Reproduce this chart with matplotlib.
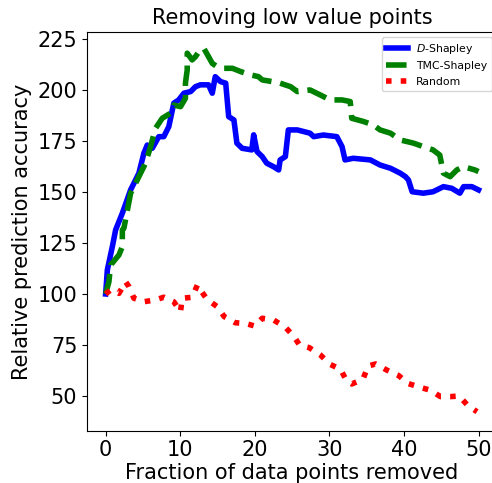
import matplotlib
matplotlib.use("Agg")
import matplotlib.pyplot as plt

# D-Shapley
d_x = [0, 0.23, 0.9, 1.34, 2.24, 3.35, 4.46, 5.13, 5.58, 6.25, 7.13, 7.8, 8.47, 9.14, 9.8,
       10.5, 11.4, 12.05, 12.7, 13.8, 14.3, 14.7, 15.4, 16.1, 16.5, 17.2, 17.6, 18.3, 19.6,
       19.85, 20.3, 21.0, 21.6, 22.5, 23.2, 23.4, 24.1, 24.5, 25.7, 27.4, 27.9, 29.2, 31.0,
       31.7, 32.1, 33.2, 35.5, 36.8, 38.2, 39.5, 40.2, 40.6, 41.1, 42.6, 43.9, 45.3, 46.4,
       47.5, 48.0, 49.1, 50.0]
d_y = [100, 111.8, 123.2, 131.4, 139.6, 151, 159.2, 169, 173, 171.4, 177.1, 177.1, 182, 193.5,
       195.1, 198.4, 199.2, 201.6, 202.5, 202.5, 198.4, 206.5, 204.1, 203.3, 186.9, 185.3,
       173.9, 171.4, 170.6, 178, 169.8, 167.3, 164.1, 162.4, 160.8, 165.7, 167.3, 180.4,
       180.4, 178.8, 177.1, 177.9, 177.1, 172.2, 165.7, 166.5, 165.7, 163.2, 161.6, 159.2,
       157.5, 155.9, 150.1, 149.4, 150.1, 152.6, 151.8, 149.4, 152.6, 152.6, 151]

# TMC-Shapley
t_x = [0, 0.44, 0.67, 1.78, 2.24, 2.24, 2.45, 3.35, 4.24, 5.35, 6.02, 6.69, 7.59, 8.7, 9.14,
       10.04, 10.7, 10.7, 10.94, 10.94, 11.6, 12.05, 12.5, 13.16, 13.8, 14.3, 14.95, 15.8,
       17.0, 18.1, 19.4, 20.5, 21.0, 22.3, 23.4, 24.8, 25.7, 27.4, 28.8, 30.1, 31.7, 32.8,
       33.0, 34.6, 35.9, 36.8, 38.2, 39.5, 41.3, 42.6, 43.9, 44.8, 45.3, 46.2, 47.1, 48.0,
       49.5, 50.0]
t_y = [100, 106, 114.2, 119.1, 123.2, 131.4, 132.2, 149.4, 155.9, 164.1, 172.2, 181.2, 186.1,
       188.6, 192.6, 191.8, 195.9, 203.3, 209.8, 218, 214.7, 216.3, 218.8, 220.4, 216.3, 213,
       211.4, 210.6, 210.6, 209, 207.4, 206.5, 204.9, 204.1, 203.3, 201.6, 199.2, 200, 197.5,
       195.1, 195.1, 194.3, 186.1, 184.5, 182.8, 180.4, 178.8, 175.5, 173.9, 172.2, 170.6,
       168.1, 159.2, 157.5, 160.8, 162.4, 160.8, 160]

# Random
r_x = [0, 0.67, 1.78, 2.68, 3.12, 3.79, 5.13, 6.69, 7.8, 9.14, 10.04, 10.27, 11.6, 12.3, 12.7,
       13.6, 14.95, 15.9, 17.4, 18.7, 20.0, 21.0, 22.5, 24.1, 25.2, 26.0, 27.3, 28.8, 30.1,
       31.5, 32.3, 33.0, 34.5, 35.2, 36.2, 37.7, 39.3, 40.5, 42.1, 43.5, 44.9, 46.2, 47.4,
       48.6, 49.8]
r_y = [100, 102, 100.3, 106, 103.6, 97.9, 96.2, 97.1, 98.4, 96.2, 91.3, 97.9, 98.4, 104.4, 102,
       97.4, 93.8, 88.9, 85.9, 85.6, 84.3, 88.1, 87.3, 83.7, 79.4, 75, 73.7, 70.1, 65.5, 63.1,
       57.5, 55.9, 58.2, 64.7, 65.7, 62.7, 60, 56.2, 54.3, 52.9, 49.7, 49.7, 50, 45.2, 42.3]

fig = plt.figure(figsize=(4.92, 4.83), dpi=100)
ax = fig.add_axes([0.1768, 0.1083, 0.8337, 0.8255])

ax.plot(d_x, d_y, color="blue", lw=4, label=r"$D$-Shapley")
ax.plot(t_x, t_y, color="green", lw=4, ls="--", label="TMC-Shapley")
ax.plot(r_x, r_y, color="red", lw=4, ls=":", label="Random")

ax.set_xlim(-2.5, 52.5)
ax.set_ylim(33, 228.4)
ax.set_xticks([0, 10, 20, 30, 40, 50])
ax.set_yticks([50, 75, 100, 125, 150, 175, 200, 225])
ax.tick_params(labelsize=15)
ax.set_xlabel("Fraction of data points removed", fontsize=15, labelpad=2)
ax.set_ylabel("Relative prediction accuracy", fontsize=15)
ax.set_title("Removing low value points", fontsize=15)
ax.legend(loc="upper right", fontsize=7.8)

fig.savefig("out.png", dpi=100)
